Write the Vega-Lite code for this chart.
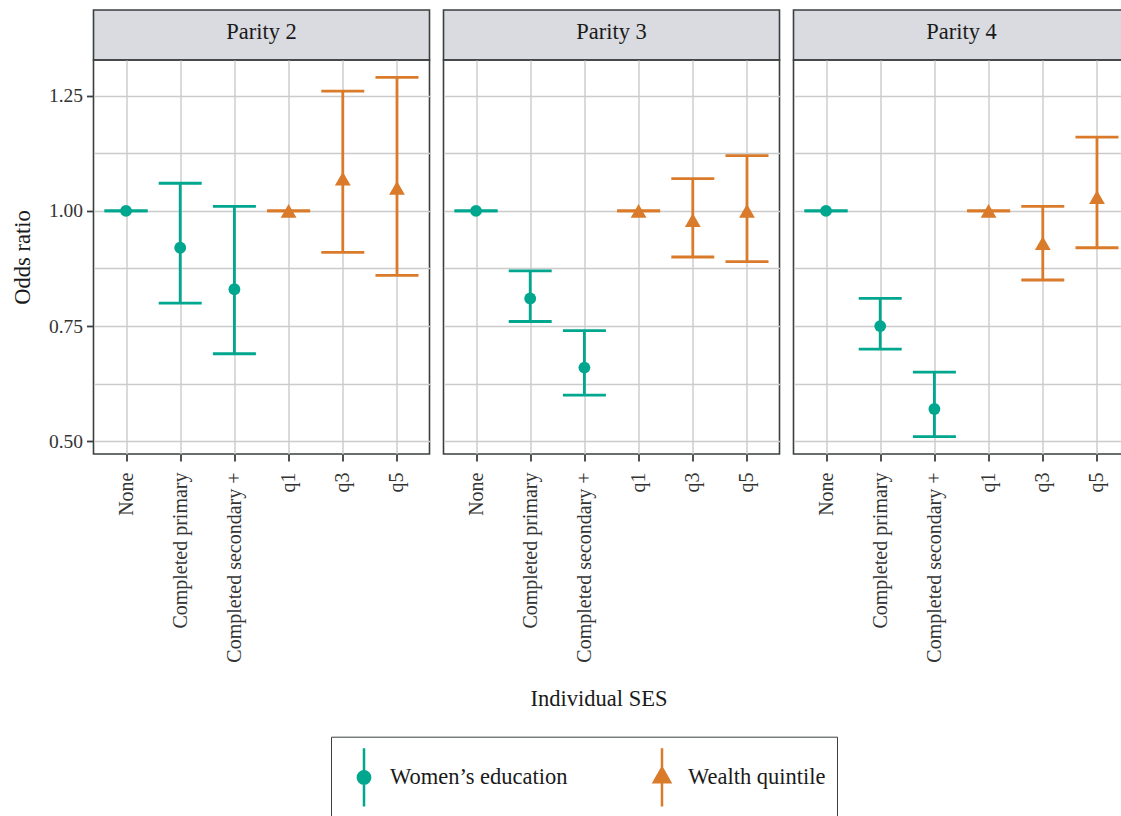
{
  "$schema": "https://vega.github.io/schema/vega-lite/v6.json",
  "padding": {"left": 10.5, "top": 9, "right": 5, "bottom": 5},
  "background": "white",
  "data": {
    "values": [
      {"parity": "Parity 2", "variable": "Women’s education", "cat": "None", "or": 1.00, "lo": 1.00, "hi": 1.00},
      {"parity": "Parity 2", "variable": "Women’s education", "cat": "Completed primary", "or": 0.92, "lo": 0.80, "hi": 1.06},
      {"parity": "Parity 2", "variable": "Women’s education", "cat": "Completed secondary +", "or": 0.83, "lo": 0.69, "hi": 1.01},
      {"parity": "Parity 2", "variable": "Wealth quintile", "cat": "q1", "or": 1.00, "lo": 1.00, "hi": 1.00},
      {"parity": "Parity 2", "variable": "Wealth quintile", "cat": "q3", "or": 1.07, "lo": 0.91, "hi": 1.26},
      {"parity": "Parity 2", "variable": "Wealth quintile", "cat": "q5", "or": 1.05, "lo": 0.86, "hi": 1.29},
      {"parity": "Parity 3", "variable": "Women’s education", "cat": "None", "or": 1.00, "lo": 1.00, "hi": 1.00},
      {"parity": "Parity 3", "variable": "Women’s education", "cat": "Completed primary", "or": 0.81, "lo": 0.76, "hi": 0.87},
      {"parity": "Parity 3", "variable": "Women’s education", "cat": "Completed secondary +", "or": 0.66, "lo": 0.60, "hi": 0.74},
      {"parity": "Parity 3", "variable": "Wealth quintile", "cat": "q1", "or": 1.00, "lo": 1.00, "hi": 1.00},
      {"parity": "Parity 3", "variable": "Wealth quintile", "cat": "q3", "or": 0.98, "lo": 0.90, "hi": 1.07},
      {"parity": "Parity 3", "variable": "Wealth quintile", "cat": "q5", "or": 1.00, "lo": 0.89, "hi": 1.12},
      {"parity": "Parity 4", "variable": "Women’s education", "cat": "None", "or": 1.00, "lo": 1.00, "hi": 1.00},
      {"parity": "Parity 4", "variable": "Women’s education", "cat": "Completed primary", "or": 0.75, "lo": 0.70, "hi": 0.81},
      {"parity": "Parity 4", "variable": "Women’s education", "cat": "Completed secondary +", "or": 0.57, "lo": 0.51, "hi": 0.65},
      {"parity": "Parity 4", "variable": "Wealth quintile", "cat": "q1", "or": 1.00, "lo": 1.00, "hi": 1.00},
      {"parity": "Parity 4", "variable": "Wealth quintile", "cat": "q3", "or": 0.93, "lo": 0.85, "hi": 1.01},
      {"parity": "Parity 4", "variable": "Wealth quintile", "cat": "q5", "or": 1.03, "lo": 0.92, "hi": 1.16}
    ]
  },
  "columns": 3,
  "spacing": {"row": 0, "column": 14},
  "bounds": "flush",
  "config": {
    "font": "Liberation Serif",
    "view": {"stroke": "#3b3f3f", "strokeWidth": 1.6},
    "axis": {
      "labelFont": "Liberation Serif",
      "labelFontSize": 20,
      "labelColor": "#333333",
      "labelLimit": 400,
      "titleFont": "Liberation Serif",
      "titleFontSize": 22.5,
      "titleFontWeight": "normal",
      "titleColor": "#1a1a1a",
      "tickColor": "#3b3f3f",
      "tickWidth": 1.8,
      "tickSize": 7,
      "domain": false,
      "grid": true,
      "gridColor": "#cbcbcb",
      "gridWidth": 1.4
    },
    "legend": {
      "orient": "none",
      "legendX": 237.5,
      "legendY": 726.7,
      "direction": "horizontal",
      "title": null,
      "labelFont": "Liberation Serif",
      "labelFontSize": 22.5,
      "labelColor": "#1a1a1a",
      "labelLimit": 400,
      "labelOffset": -3.5,
      "symbolOffset": -7.5,
      "columnPadding": 72,
      "padding": 11,
      "strokeColor": "#3b3f3f",
      "symbolSize": 3136,
      "symbolStrokeWidth": 2.5,
      "symbolOpacity": 1
    }
  },
  "concat": [
    {
      "width": 336, "height": 50,
      "view": {"fill": "#d9dbe0", "stroke": "#3b3f3f", "strokeWidth": 1.6},
      "transform": [{"filter": "datum.parity == 'Parity 2' && datum.cat == 'None'"}],
      "mark": {"type": "text", "fontSize": 22.5, "color": "#1a1a1a", "dy": -3},
      "encoding": {"text": {"field": "parity", "type": "nominal"}}
    },
    {
      "width": 336, "height": 50,
      "view": {"fill": "#d9dbe0", "stroke": "#3b3f3f", "strokeWidth": 1.6},
      "transform": [{"filter": "datum.parity == 'Parity 3' && datum.cat == 'None'"}],
      "mark": {"type": "text", "fontSize": 22.5, "color": "#1a1a1a", "dy": -3},
      "encoding": {"text": {"field": "parity", "type": "nominal"}}
    },
    {
      "width": 336, "height": 50,
      "view": {"fill": "#d9dbe0", "stroke": "#3b3f3f", "strokeWidth": 1.6},
      "transform": [{"filter": "datum.parity == 'Parity 4' && datum.cat == 'None'"}],
      "mark": {"type": "text", "fontSize": 22.5, "color": "#1a1a1a", "dy": -3},
      "encoding": {"text": {"field": "parity", "type": "nominal"}}
    },
    {
      "width": 336, "height": 394,
      "transform": [{"filter": "datum.parity == 'Parity 2'"}],
      "encoding": {
        "x": {"field": "cat", "type": "nominal", "sort": ["None", "Completed primary", "Completed secondary +", "q1", "q3", "q5"], "scale": {"type": "point", "padding": 0.6},
              "axis": {"title": null, "labelAngle": -90, "labelPadding": 11}},
        "color": {"field": "variable", "type": "nominal", "scale": {"domain": ["Women’s education", "Wealth quintile"], "range": ["#00a78e", "#d97b2b"]}, "legend": {"title": null}}
      },
      "layer": [
        {"mark": {"type": "rule", "strokeWidth": 2.8},
         "encoding": {"y": {"field": "lo", "type": "quantitative", "title": "Odds ratio", "scale": {"domain": [0.4724, 1.3275], "nice": false, "zero": false},
                            "axis": {"values": [0.5, 0.625, 0.75, 0.875, 1, 1.125, 1.25], "format": ".2f", "labelExpr": "(round(datum.value*1000) % 250) == 0 ? datum.label : ''",
                                     "tickOpacity": {"condition": {"test": "(round(datum.value*1000) % 250) != 0", "value": 0}, "value": 1}, "labelPadding": 4, "titlePadding": 14, "labelFontSize": 19.5}},
                      "y2": {"field": "hi"}}},
        {"mark": {"type": "tick", "orient": "horizontal", "size": 43, "thickness": 2.8, "opacity": 1},
         "encoding": {"y": {"field": "lo", "type": "quantitative", "title": "Odds ratio"}}},
        {"mark": {"type": "tick", "orient": "horizontal", "size": 43, "thickness": 2.8, "opacity": 1},
         "encoding": {"y": {"field": "hi", "type": "quantitative", "title": "Odds ratio"}}},
        {"transform": [{"filter": "datum.variable != 'Wealth quintile'"}],
         "mark": {"type": "point", "shape": "circle", "filled": true, "opacity": 1, "size": 140},
         "encoding": {"y": {"field": "or", "type": "quantitative", "title": "Odds ratio"}}},
        {"transform": [{"filter": "datum.variable == 'Wealth quintile'"}],
         "mark": {"type": "point", "shape": "triangle-up", "filled": true, "opacity": 1, "size": 250},
         "encoding": {"y": {"field": "or", "type": "quantitative", "title": "Odds ratio"}}},
        {"mark": {"type": "point", "filled": true, "opacity": 0, "size": 3136},
         "encoding": {"y": {"field": "or", "type": "quantitative", "title": "Odds ratio"},
                      "shape": {"field": "variable", "type": "nominal", "legend": {"title": null},
                                "scale": {"domain": ["Women’s education", "Wealth quintile"],
                                          "range": ["M0,-1.04V1.04M-0.22,0A0.22,0.22,0,1,0,0.22,0A0.22,0.22,0,1,0,-0.22,0Z", "M0,-1.04V1.04M0,-0.34L-0.29,0.17L0.29,0.17Z"]}}}}
      ]
    },
    {
      "width": 336, "height": 394,
      "transform": [{"filter": "datum.parity == 'Parity 3'"}],
      "encoding": {
        "x": {"field": "cat", "type": "nominal", "sort": ["None", "Completed primary", "Completed secondary +", "q1", "q3", "q5"], "scale": {"type": "point", "padding": 0.6},
              "axis": {"title": "Individual SES", "labelAngle": -90, "labelPadding": 11, "titlePadding": 33, "titleX": 155}},
        "color": {"field": "variable", "type": "nominal", "scale": {"domain": ["Women’s education", "Wealth quintile"], "range": ["#00a78e", "#d97b2b"]}, "legend": {"title": null}}
      },
      "layer": [
        {"mark": {"type": "rule", "strokeWidth": 2.8},
         "encoding": {"y": {"field": "lo", "type": "quantitative", "title": null, "scale": {"domain": [0.4724, 1.3275], "nice": false, "zero": false},
                            "axis": {"values": [0.5, 0.625, 0.75, 0.875, 1, 1.125, 1.25], "labels": false, "ticks": false, "title": null}},
                      "y2": {"field": "hi"}}},
        {"mark": {"type": "tick", "orient": "horizontal", "size": 43, "thickness": 2.8, "opacity": 1},
         "encoding": {"y": {"field": "lo", "type": "quantitative", "title": null}}},
        {"mark": {"type": "tick", "orient": "horizontal", "size": 43, "thickness": 2.8, "opacity": 1},
         "encoding": {"y": {"field": "hi", "type": "quantitative", "title": null}}},
        {"transform": [{"filter": "datum.variable != 'Wealth quintile'"}],
         "mark": {"type": "point", "shape": "circle", "filled": true, "opacity": 1, "size": 140},
         "encoding": {"y": {"field": "or", "type": "quantitative", "title": null}}},
        {"transform": [{"filter": "datum.variable == 'Wealth quintile'"}],
         "mark": {"type": "point", "shape": "triangle-up", "filled": true, "opacity": 1, "size": 250},
         "encoding": {"y": {"field": "or", "type": "quantitative", "title": null}}}
      ]
    },
    {
      "width": 336, "height": 394,
      "transform": [{"filter": "datum.parity == 'Parity 4'"}],
      "encoding": {
        "x": {"field": "cat", "type": "nominal", "sort": ["None", "Completed primary", "Completed secondary +", "q1", "q3", "q5"], "scale": {"type": "point", "padding": 0.6},
              "axis": {"title": null, "labelAngle": -90, "labelPadding": 11}},
        "color": {"field": "variable", "type": "nominal", "scale": {"domain": ["Women’s education", "Wealth quintile"], "range": ["#00a78e", "#d97b2b"]}, "legend": {"title": null}}
      },
      "layer": [
        {"mark": {"type": "rule", "strokeWidth": 2.8},
         "encoding": {"y": {"field": "lo", "type": "quantitative", "title": null, "scale": {"domain": [0.4724, 1.3275], "nice": false, "zero": false},
                            "axis": {"values": [0.5, 0.625, 0.75, 0.875, 1, 1.125, 1.25], "labels": false, "ticks": false, "title": null}},
                      "y2": {"field": "hi"}}},
        {"mark": {"type": "tick", "orient": "horizontal", "size": 43, "thickness": 2.8, "opacity": 1},
         "encoding": {"y": {"field": "lo", "type": "quantitative", "title": null}}},
        {"mark": {"type": "tick", "orient": "horizontal", "size": 43, "thickness": 2.8, "opacity": 1},
         "encoding": {"y": {"field": "hi", "type": "quantitative", "title": null}}},
        {"transform": [{"filter": "datum.variable != 'Wealth quintile'"}],
         "mark": {"type": "point", "shape": "circle", "filled": true, "opacity": 1, "size": 140},
         "encoding": {"y": {"field": "or", "type": "quantitative", "title": null}}},
        {"transform": [{"filter": "datum.variable == 'Wealth quintile'"}],
         "mark": {"type": "point", "shape": "triangle-up", "filled": true, "opacity": 1, "size": 250},
         "encoding": {"y": {"field": "or", "type": "quantitative", "title": null}}}
      ]
    }
  ]
}
